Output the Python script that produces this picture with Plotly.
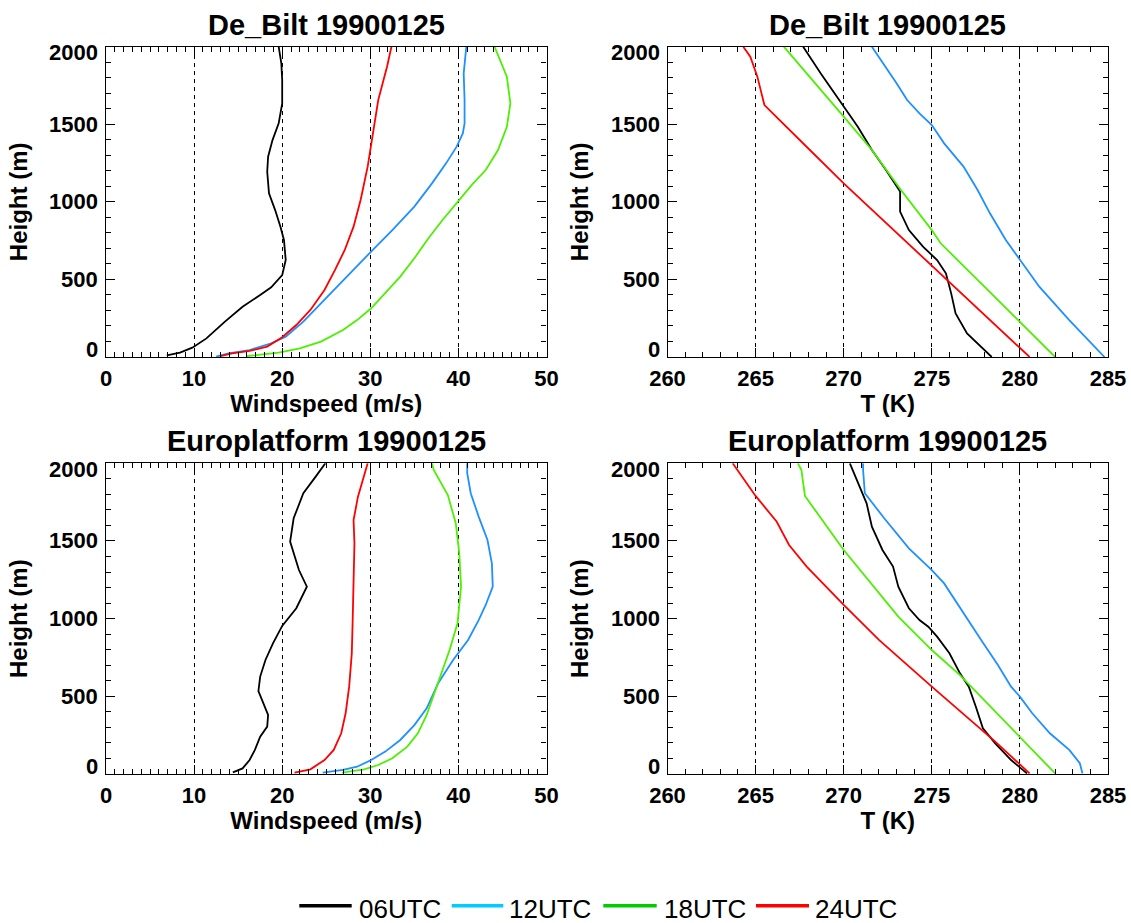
import plotly.graph_objects as go

FONT = "Liberation Sans, Arial, Helvetica, sans-serif"

# ---------------- data ----------------
series_names = ["06UTC", "12UTC", "18UTC", "24UTC"]
line_colors = ["#000000", "#1e90ff", "#4cf000", "#ff0000"]
legend_colors = ["#000000", "#00ccff", "#00cc00", "#ff0000"]

panel_titles = ["De_Bilt 19900125", "De_Bilt 19900125",
                "Europlatform 19900125", "Europlatform 19900125"]
x_titles = ["Windspeed (m/s)", "T (K)", "Windspeed (m/s)", "T (K)"]
y_title = "Height (m)"

wind_ticks = [0, 10, 20, 30, 40, 50]
temp_ticks = [260, 265, 270, 275, 280, 285]
height_ticks = [0, 500, 1000, 1500, 2000]

# De_Bilt wind speed
bilt_ws_06 = [6.9, 8.4, 9.8, 11.4, 13.5, 15.5, 17.5, 18.75, 20.0, 20.4, 20.2, 19.8, 19.2, 18.5, 18.3, 18.4, 18.9, 19.6, 20.0, 20.0, 19.9, 19.6]
bilt_ws_06_h = [11, 28, 60, 120, 228, 324, 400, 449, 528, 625, 754, 840, 947, 1055, 1194, 1291, 1398, 1506, 1635, 1785, 1893, 2000]
bilt_ws_12 = [12.5, 13.9, 16.3, 18.75, 20.4, 22.4, 24.4, 26.9, 29.7, 32.5, 35.0, 37.0, 38.6, 39.8, 40.5, 40.7, 40.7, 40.6, 40.8, 40.9]
bilt_ws_12_h = [2, 24, 45, 88, 131, 228, 346, 496, 657, 818, 969, 1119, 1248, 1356, 1441, 1506, 1656, 1828, 1979, 2000]
bilt_ws_18 = [16.0, 19.6, 22.0, 24.4, 26.9, 28.5, 30.1, 31.7, 33.4, 35.0, 36.6, 38.2, 40.1, 41.5, 43.1, 44.5, 45.5, 45.9, 45.5, 44.7, 44.1]
bilt_ws_18_h = [6, 28, 56, 99, 174, 238, 314, 410, 518, 636, 765, 883, 1012, 1108, 1205, 1334, 1484, 1635, 1807, 1914, 2000]
bilt_ws_24 = [13.0, 14.3, 16.3, 18.3, 20.0, 21.6, 23.2, 24.8, 26.0, 27.1, 28.1, 28.9, 29.7, 30.3, 30.9, 31.5, 31.9, 32.4]
bilt_ws_24_h = [6, 24, 39, 67, 127, 206, 303, 432, 561, 690, 840, 1012, 1227, 1441, 1656, 1785, 1871, 2000]

# De_Bilt temperature
bilt_t_06 = [278.4, 277.8, 277.0, 276.35, 276.1, 275.8, 275.3, 274.5, 273.7, 273.2, 273.2, 272.4, 271.6, 270.8, 270.0, 268.7, 267.7]
bilt_t_06_h = [0, 67, 152, 281, 410, 539, 625, 711, 818, 937, 1066, 1205, 1334, 1484, 1613, 1828, 2000]
bilt_t_12 = [284.8, 282.8, 281.1, 280.0, 279.2, 278.3, 277.6, 276.8, 275.7, 275.0, 274.3, 273.6, 273.0, 271.6]
bilt_t_12_h = [0, 238, 453, 625, 754, 926, 1076, 1227, 1377, 1495, 1570, 1656, 1764, 2000]
bilt_t_18 = [282.0, 280.0, 277.8, 275.5, 275.0, 273.25, 271.6, 270.0, 266.6]
bilt_t_18_h = [0, 228, 475, 733, 818, 1076, 1334, 1549, 2000]
bilt_t_24 = [280.55, 278.2, 275.8, 273.0, 270.0, 267.85, 265.5, 265.1, 264.7, 264.3]
bilt_t_24_h = [0, 250, 500, 800, 1119, 1360, 1624, 1807, 1936, 2000]

# Europlatform wind speed
euro_ws_06 = [14.4, 15.5, 16.3, 16.9, 17.5, 18.3, 18.4, 17.9, 17.3, 17.5, 18.1, 18.95, 20.0, 21.6, 22.8, 21.9, 20.9, 21.3, 22.4, 23.8, 24.9]
euro_ws_06_h = [11, 36, 90, 155, 240, 305, 380, 455, 534, 627, 734, 841, 953, 1067, 1206, 1313, 1496, 1646, 1807, 1914, 2000]
euro_ws_12 = [24.6, 26.9, 28.5, 30.1, 31.7, 33.4, 35.0, 36.4, 37.7, 39.4, 41.1, 42.3, 43.1, 43.9, 43.8, 43.3, 42.3, 41.4, 41.0, 41.0]
euro_ws_12_h = [9, 26, 47, 90, 144, 219, 315, 423, 584, 734, 863, 991, 1088, 1206, 1356, 1506, 1657, 1807, 1936, 2000]
euro_ws_18 = [26.8, 29.3, 30.9, 32.5, 34.2, 35.4, 36.4, 37.2, 38.0, 39.0, 39.9, 40.3, 40.1, 39.7, 38.8, 37.2, 37.0]
euro_ws_18_h = [9, 30, 58, 101, 176, 262, 380, 509, 648, 798, 970, 1206, 1421, 1614, 1796, 1957, 2000]
euro_ws_24 = [21.4, 23.2, 24.8, 25.85, 26.7, 27.2, 27.6, 27.9, 28.0, 28.1, 28.2, 28.2, 28.1, 28.6, 29.7]
euro_ws_24_h = [9, 30, 90, 155, 262, 391, 562, 777, 991, 1206, 1335, 1485, 1635, 1785, 2000]

# Europlatform temperature
euro_t_06 = [280.4, 279.5, 278.6, 277.9, 277.5, 277.1, 276.6, 276.0, 275.3, 274.8, 274.3, 273.7, 273.1, 272.8, 272.2, 271.6, 271.3, 270.9, 270.35]
euro_t_06_h = [4, 90, 197, 294, 433, 562, 648, 777, 884, 948, 991, 1067, 1206, 1335, 1442, 1592, 1742, 1850, 2000]
euro_t_12 = [283.55, 283.4, 282.8, 281.7, 280.7, 280.0, 279.5, 278.75, 277.8, 276.8, 275.7, 275.0, 273.7, 272.3, 271.2, 271.1, 271.1]
euro_t_12_h = [4, 69, 155, 262, 391, 498, 562, 702, 863, 1034, 1227, 1313, 1453, 1646, 1807, 1957, 2000]
euro_t_18 = [282.0, 280.0, 276.6, 275.0, 273.1, 270.0, 267.8, 267.6, 267.4]
euro_t_18_h = [4, 240, 637, 798, 1013, 1442, 1790, 1957, 2000]
euro_t_24 = [280.55, 278.6, 275.0, 272.0, 270.0, 267.9, 266.9, 266.2, 265.0, 263.7]
euro_t_24_h = [4, 208, 562, 863, 1088, 1335, 1474, 1624, 1790, 2000]

panels = [
    [(bilt_ws_06, bilt_ws_06_h), (bilt_ws_12, bilt_ws_12_h), (bilt_ws_18, bilt_ws_18_h), (bilt_ws_24, bilt_ws_24_h)],
    [(bilt_t_06, bilt_t_06_h), (bilt_t_12, bilt_t_12_h), (bilt_t_18, bilt_t_18_h), (bilt_t_24, bilt_t_24_h)],
    [(euro_ws_06, euro_ws_06_h), (euro_ws_12, euro_ws_12_h), (euro_ws_18, euro_ws_18_h), (euro_ws_24, euro_ws_24_h)],
    [(euro_t_06, euro_t_06_h), (euro_t_12, euro_t_12_h), (euro_t_18, euro_t_18_h), (euro_t_24, euro_t_24_h)],
]

# ---------------- layout geometry (paper fractions) ----------------
W, H = 1131, 923
x_domains = [[106 / W, 546.5 / W], [667.5 / W, 1108 / W]]
y_domains = [[1 - 357 / H, 1 - 46.7 / H], [1 - 774 / H, 1 - 463.3 / H]]

fig = go.Figure()

for p, series in enumerate(panels):
    suffix = "" if p == 0 else str(p + 1)
    for (xs, hs), name, col in zip(series, series_names, line_colors):
        fig.add_trace(go.Scatter(
            x=xs, y=hs, mode="lines", name=name, showlegend=False,
            line=dict(color=col, width=1.8),
            xaxis="x" + suffix, yaxis="y" + suffix,
        ))

tickfont = dict(family=FONT, size=22, color="black", weight="bold")
titlefont = dict(family=FONT, size=24, color="black", weight="bold")

layout = dict(
    width=W, height=H,
    margin=dict(l=0, r=0, t=0, b=0),
    paper_bgcolor="white", plot_bgcolor="white",
    showlegend=False,
    font=dict(family=FONT, color="black"),
)

for p in range(4):
    col = p % 2
    row = p // 2
    suffix = "" if p == 0 else str(p + 1)
    is_wind = col == 0
    xt = wind_ticks if is_wind else temp_ticks
    layout["xaxis" + suffix] = dict(
        domain=x_domains[col], anchor="y" + suffix,
        range=[xt[0], xt[-1]], tickvals=xt, ticktext=[str(v) for v in xt],
        showline=True, linecolor="black", linewidth=1.2, mirror="allticks",
        ticks="inside", ticklen=9, tickwidth=1.2, tickcolor="black",
        minor=dict(ticks="inside", dtick=1, ticklen=5, tickwidth=1, tickcolor="black", showgrid=False),
        showgrid=True, gridcolor="black", gridwidth=1, griddash="4px,4px",
        zeroline=False, tickfont=tickfont, ticklabelstandoff=1,
        title=dict(text=x_titles[p], font=titlefont, standoff=1),
        automargin=False,
    )
    # y tick labels are drawn as annotations below (IDL keeps end labels inside the frame)
    layout["yaxis" + suffix] = dict(
        domain=y_domains[row], anchor="x" + suffix,
        range=[0, 2000], tickvals=height_ticks, showticklabels=False,
        showline=True, linecolor="black", linewidth=1.2, mirror="allticks",
        ticks="inside", ticklen=9, tickwidth=1.2, tickcolor="black",
        minor=dict(ticks="inside", dtick=100, ticklen=5, tickwidth=1, tickcolor="black", showgrid=False),
        showgrid=False, zeroline=False,
        title=dict(text=y_title, font=titlefont, standoff=70),
        automargin=False,
    )

fig.update_layout(**layout)

# y tick labels
for p in range(4):
    col = p % 2
    suffix = "" if p == 0 else str(p + 1)
    for v in height_ticks:
        shift = -6 if v == height_ticks[-1] else (8 if v == height_ticks[0] else 0)
        fig.add_annotation(
            text=str(v), xref="paper", yref="y" + suffix,
            x=x_domains[col][0], y=v, xanchor="right", yanchor="middle",
            xshift=-7, yshift=shift, showarrow=False, borderpad=0,
            font=tickfont,
        )

# panel titles
title_y = [1 - 25 / H, 1 - 441 / H]
for p in range(4):
    col = p % 2
    row = p // 2
    fig.add_annotation(
        text=panel_titles[p], xref="paper", yref="paper",
        x=sum(x_domains[col]) / 2, y=title_y[row], xanchor="center", yanchor="middle",
        showarrow=False, font=dict(family=FONT, size=29, color="black", weight="bold"),
    )

# legend (drawn below the panels)
leg_line_x = [(299.3, 351.7), (451.7, 503.3), (603.3, 656.7), (756, 809)]
leg_text_x = [356.5, 506.5, 661.5, 813]
leg_line_y = 1 - 905.7 / H
leg_text_y = 1 - 909 / H
for (x0, x1), tx, name, col in zip(leg_line_x, leg_text_x, series_names, legend_colors):
    fig.add_shape(type="line", xref="paper", yref="paper",
                  x0=x0 / W, x1=x1 / W, y0=leg_line_y, y1=leg_line_y,
                  line=dict(color=col, width=3.5))
    fig.add_annotation(text=name, xref="paper", yref="paper", x=tx / W, y=leg_text_y,
                       xanchor="left", yanchor="middle", showarrow=False,
                       font=dict(family=FONT, size=26, color="black"))

fig.write_html("out.html")
